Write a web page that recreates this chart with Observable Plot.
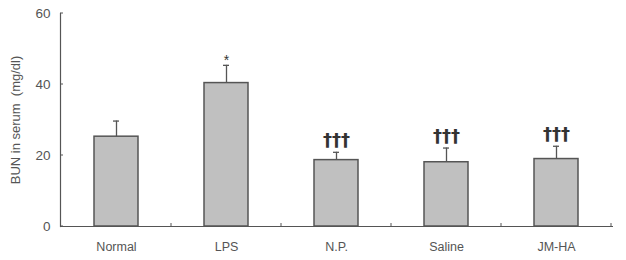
<!DOCTYPE html>
<html><head><meta charset="utf-8">
<script src="https://cdn.jsdelivr.net/npm/d3@7"></script>
<script src="https://cdn.jsdelivr.net/npm/@observablehq/plot@0.6"></script>
<style>body{margin:0;background:#fff;font-family:"Liberation Sans",Arial,sans-serif}</style>
</head><body><div id="chart"></div>
<script>
const categories = ["Normal", "LPS", "N.P.", "Saline", "JM-HA"];
const means = [25.3, 40.4, 18.7, 18.1, 19.0];
const errors = [4.4, 5.0, 2.2, 4.0, 3.6];
const marks = ["", "*", "†††", "†††", "†††"];
const yTicks = [0, 20, 40, 60];
const yLabel = "BUN in serum  (mg/dl)";
const PAD_INNER = 0.6, PAD_OUTER = 0.3;

const data = categories.map((c, i) => ({cat: c, mean: means[i], err: errors[i], top: means[i] + errors[i], mark: marks[i]}));

const boundaryTicks = (index, {x, y}) => {
  const g = d3.create("svg:g");
  const step = x(categories[1]) - x(categories[0]);
  const bw = step * (1 - PAD_INNER);
  const y0 = y(0);
  for (const c of categories) {
    const px = x(c) + (step + bw) / 2;
    g.append("line").attr("x1", px).attr("x2", px).attr("y1", y0).attr("y2", y0 - 3)
      .attr("stroke", "#555").attr("stroke-width", 1);
  }
  return g.node();
};

const yInnerTicks = (index, {x, y}, values, dims) => {
  const g = d3.create("svg:g");
  for (const t of yTicks) {
    g.append("line").attr("x1", dims.marginLeft).attr("x2", dims.marginLeft + 3)
      .attr("y1", y(t)).attr("y2", y(t)).attr("stroke", "#555");
  }
  return g.node();
};

const chart = Plot.plot({
  width: 626,
  height: 260,
  marginLeft: 60,
  marginRight: 13,
  marginTop: 13,
  marginBottom: 34,
  style: {fontFamily: "Liberation Sans, Arial, sans-serif", color: "#555", background: "#fff"},
  x: {domain: categories, paddingInner: PAD_INNER, paddingOuter: PAD_OUTER, axis: null},
  y: {domain: [0, 60], axis: null},
  marks: [
    Plot.barY(data, {x: "cat", y: "mean", fill: "#c0c0c0", stroke: "#555", strokeWidth: 1.5}),
    Plot.ruleX(data, {x: "cat", y1: "mean", y2: "top", stroke: "#555", strokeWidth: 1.3}),
    Plot.tickY(data, {x: "cat", y: "top", stroke: "#555", strokeWidth: 1.3, insetLeft: 19, insetRight: 19}),
    Plot.text(data.filter(d => d.mark === "*"), {x: "cat", y: "top", text: "mark", dy: -5, fontSize: 14, fill: "#333"}),
    Plot.text(data.filter(d => d.mark.startsWith("†")), {x: "cat", y: "top", text: "mark", dy: -12, fontSize: 18, fontWeight: "bold", fill: "#333", fontFamily: "DejaVu Sans"}),
    Plot.ruleY([0], {stroke: "#555", strokeWidth: 1.2}),
    Plot.frame({anchor: "left", stroke: "#555", strokeWidth: 1.2}),
    boundaryTicks,
    yInnerTicks,
    Plot.axisY({ticks: yTicks, tickSize: 0, tickPadding: 10, fontSize: 13.5, fill: "#555", label: null}),
    Plot.text([yLabel], {frameAnchor: "left", rotate: -90, dx: -45, dy: 0, textAnchor: "middle", text: d => d, fontSize: 13, fill: "#555"}),
    Plot.axisX({tickSize: 0, tickPadding: 16, fontSize: 12.5, fill: "#555", label: null})
  ]
});
document.getElementById("chart").appendChild(chart);
</script></body></html>
